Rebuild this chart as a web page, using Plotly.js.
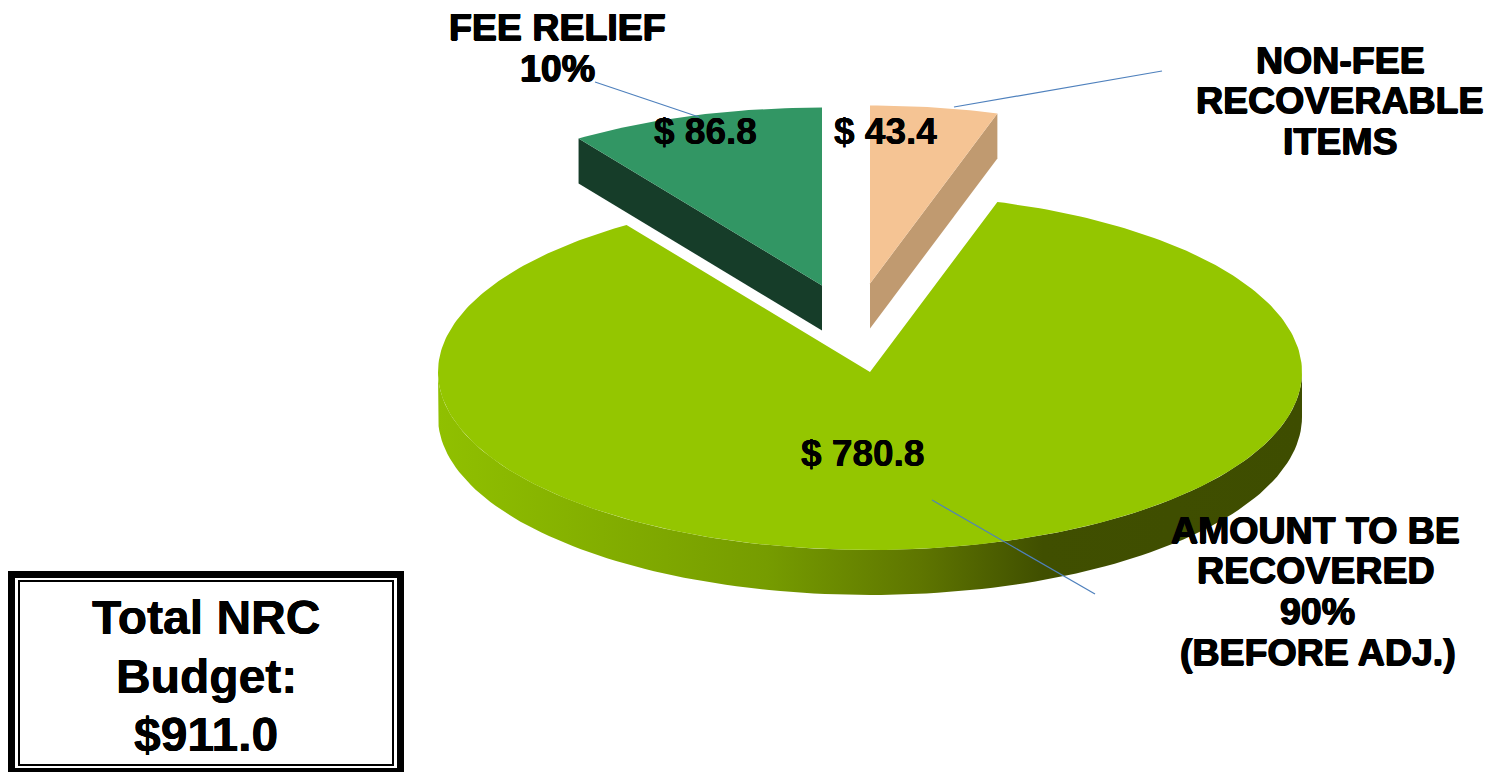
<!DOCTYPE html>
<html>
<head>
<meta charset="utf-8">
<script src="https://cdn.plot.ly/plotly-3.0.1.min.js"></script>
<style>html,body{margin:0;padding:0;background:#fff}#chart{width:1491px;height:773px}</style>
</head>
<body>
<div id="chart"></div>
<script>
// ---- data ----
const categories = ["Non-fee recoverable items", "Amount to be recovered", "Fee relief"];
const values = [43.4, 780.8, 86.8];
const categoryLines = [
  ["NON-FEE", "RECOVERABLE", "ITEMS"],
  ["AMOUNT TO BE", "RECOVERED", "90%", "(BEFORE ADJ.)"],
  ["FEE RELIEF", "10%"]
];
const totalLabelLines = ["Total NRC", "Budget:"];

// ---- geometry & style of the tilted pie ----
const radiusX = 432, radiusY = 178, depth = 45;
const apexX = [870, 870, 822];
const apexY = [283.5, 372, 285.5];
const topColors = ["#F5C494", "#94C600", "#329664"];
const sideColors = ["#C09A70", null, "#163D29"];
const bigSideScale = [[0,"#90C000"],[0.38,"#769C00"],[0.56,"#5E7500"],[0.7,"#404F00"],[1,"#3E4D00"]];
const leaderColor = "#4F81BD";
const leaderX = [[954,1162],[932,1095],[595,699]];
const leaderY = [[107,71],[500,594],[82,117]];
const valueLabelX = [885,862,705];
const valueLabelY = [131,453,131];
const lineLabelX = [[1340,1340,1340],[1315,1316,1317,1318],[557,557]];
const lineLabelY = [[60,100,141],[530,570,611,652],[27,68]];
const totalX = 206, totalY = [617,676,734];

const sum = values.reduce((a,b)=>a+b,0);
const toRad = d => d*Math.PI/180;
let acc = 0;
const spans = values.map(v => { const s = acc; acc += v/sum*360; return [s, acc]; });

function px(i,a){ return apexX[i] + radiusX*Math.sin(toRad(a)); }
function py(i,a){ return apexY[i] - radiusY*Math.cos(toRad(a)); }
function range(a,b,step){ const o=[]; const n=Math.ceil(Math.abs(b-a)/step); for(let k=0;k<=n;k++) o.push(a+(b-a)*k/n); return o; }

const traces = [];
function poly(xs, ys, color, grad){
  const t = {x:xs, y:ys, mode:"lines", line:{width:0, color:"rgba(0,0,0,0)"}, fill:"toself", hoverinfo:"skip", showlegend:false};
  if(grad) t.fillgradient = grad; else t.fillcolor = color;
  traces.push(t);
}

// side faces
{ // big slice rim: the front half of the ellipse
  const as = range(90,270,1.5);
  const xs = as.map(a=>px(1,a)), ys = as.map(a=>py(1,a));
  const x2 = xs.concat(xs.slice().reverse()), y2 = ys.concat(ys.slice().reverse().map(y=>y+depth));
  poly(x2.concat(x2[0]), y2.concat(y2[0]), null,
    {type:"horizontal", colorscale:bigSideScale, start:apexX[1]-radiusX, stop:apexX[1]+radiusX});
}
{ // orange cut face (far edge of its span)
  const a = spans[0][1], ex = px(0,a), ey = py(0,a);
  poly([ex,apexX[0],apexX[0],ex,ex],[ey,apexY[0],apexY[0]+depth,ey+depth,ey],sideColors[0]);
}
{ // dark green cut face (start edge of its span)
  const a = spans[2][0], ex = px(2,a), ey = py(2,a);
  poly([ex,apexX[2],apexX[2],ex,ex],[ey,apexY[2],apexY[2]+depth,ey+depth,ey],sideColors[2]);
}
// top faces
spans.forEach((sp,i)=>{
  const as = range(sp[0],sp[1],1);
  const xs = [apexX[i]].concat(as.map(a=>px(i,a)),[apexX[i]]);
  const ys = [apexY[i]].concat(as.map(a=>py(i,a)),[apexY[i]]);
  poly(xs,ys,topColors[i]);
});
// leader lines
leaderX.forEach((lx,i)=>traces.push({x:lx,y:leaderY[i],mode:"lines",line:{color:leaderColor,width:1.2},hoverinfo:"skip",showlegend:false}));

const FONT = "Liberation Sans, Arial, sans-serif";
const heavy = "0.7px 0 0 #000, -0.7px 0 0 #000, 0 0.5px 0 #000, 0 -0.5px 0 #000";
const medium = "0.3px 0 0 #000, -0.3px 0 0 #000";
const annotations = [];
function note(text,x,y,size,shadow){
  annotations.push({text:"<b>"+text+"</b>",x:x,y:y,xref:"x",yref:"y",showarrow:false,xanchor:"center",yanchor:"middle",
    font:{family:FONT,size:size,color:"#000",shadow:shadow||"none"}});
}
values.forEach((v,i)=>note("$ "+v.toFixed(1),valueLabelX[i],valueLabelY[i],37,medium));
categoryLines.forEach((lines,i)=>lines.forEach((t,j)=>note(t,lineLabelX[i][j],lineLabelY[i][j],37.5,heavy)));
totalLabelLines.concat(["$"+sum.toFixed(1)]).forEach((t,j)=>note(t,totalX,totalY[j],48,medium));

const shapes = [
  {type:"rect",x0:8,x1:404,y0:571,y1:772,fillcolor:"#000",line:{width:0},layer:"below"},
  {type:"rect",x0:15,x1:397,y0:578,y1:768,fillcolor:"#fff",line:{width:0},layer:"below"},
  {type:"rect",x0:19,x1:393,y0:581,y1:765,fillcolor:"#fff",line:{width:2,color:"#000"},layer:"below"}
];

Plotly.newPlot("chart",traces,{
  width:1491,height:773,margin:{l:0,r:0,t:0,b:0,pad:0},
  paper_bgcolor:"#fff",plot_bgcolor:"#fff",showlegend:false,hovermode:false,
  xaxis:{range:[0,1491],visible:false,fixedrange:true},
  yaxis:{range:[773,0],visible:false,fixedrange:true},
  annotations:annotations,shapes:shapes
},{displayModeBar:false,staticPlot:true});
</script>
</body>
</html>
